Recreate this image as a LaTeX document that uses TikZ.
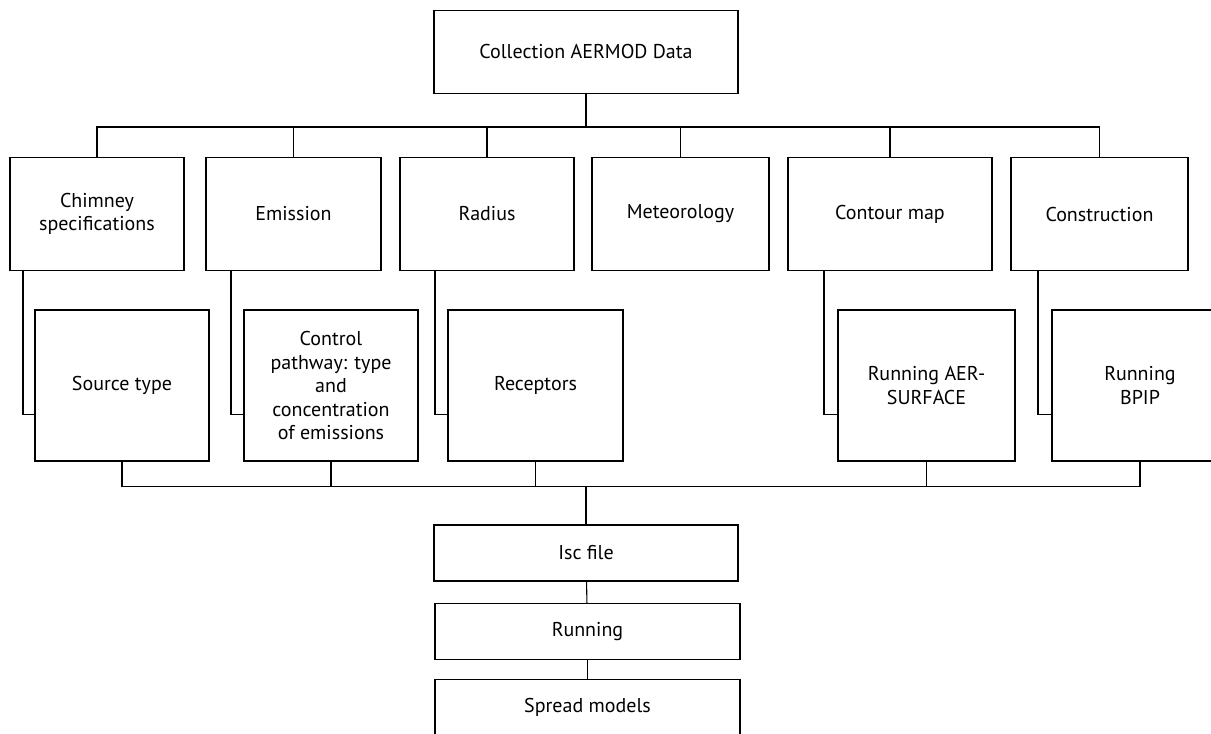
\documentclass[tikz,border=0pt]{standalone}
\usepackage{fontspec}
\setmainfont{PT Sans}
\begin{document}
\begin{tikzpicture}[x=1pt, y=-1pt, line width=1.1pt,
    box/.style={draw, align=center, inner sep=0pt, outer sep=0pt,
        font=\fontsize{20}{23.5}\selectfont},
    topbox/.style={box, minimum width=304pt, minimum height=83pt},
    catbox/.style={box, minimum height=113pt},
    subbox/.style={box, minimum height=151pt},
    runbox/.style={box, minimum width=304pt, minimum height=56pt}]
    \useasboundingbox (0,0) rectangle (1211,734);
    % Livello 1: dati raccolti
    \node[topbox] (top) at (586, 51.7) {Collection AERMOD Data};
    % Livello 2: categorie
    \node[catbox, minimum width=174pt] (chim) at (97, 214) {Chimney\\specifications};
    \node[catbox, minimum width=175pt] (emis) at (293.5, 214) {Emission};
    \node[catbox, minimum width=174pt] (rad)  at (487, 214) {Radius};
    \node[catbox, minimum width=177pt] (met)  at (680.5, 214) {Meteorology};
    \node[catbox, minimum width=204pt] (cont) at (890, 214) {Contour map};
    \node[catbox, minimum width=177pt] (cons) at (1099.5, 214) {Construction};
    % Livello 3: dettagli
    \node[subbox, minimum width=174pt] (src)  at (122, 385.5) {Source type};
    \node[subbox, minimum width=174pt] (ctrl) at (331, 385.5) {Control\\pathway: type\\and\\concentration\\of emissions};
    \node[subbox, minimum width=175pt] (rec)  at (535.5, 385.5) {Receptors};
    \node[subbox, minimum width=177pt] (aer)  at (926.5, 385.5) {Running AER-\\SURFACE};
    \node[subbox, minimum width=176pt] (bpip) at (1140, 385.5) {Running\\BPIP};
    % Livello 4: esecuzione
    \node[runbox] (isc) at (586, 553) {Isc file};
    \node[runbox, minimum width=305pt] (run) at (587.5, 631.7) {Running};
    \node[runbox, minimum width=305pt] (spread) at (587.5, 707.3) {Spread models};
    % collegamenti
    \coordinate (hub) at (top.south |- 0,127);
    \draw (top.south) -- (hub);
    \foreach \n in {chim,emis,rad,met,cont,cons}
        \draw (hub) -| (\n.north);
    \draw ([xshift=13pt]chim.south west) |- ([yshift=-29pt]src.west);
    \draw ([xshift=25pt]emis.south west) |- ([yshift=-29pt]ctrl.west);
    \draw ([xshift=35pt]rad.south west) |- ([yshift=-29pt]rec.west);
    \draw ([xshift=36pt]cont.south west) |- ([yshift=-29pt]aer.west);
    \draw ([xshift=27pt]cons.south west) |- ([yshift=-29pt]bpip.west);
    \coordinate (hub2) at (isc.north |- 0,486.7);
    \foreach \n in {src,ctrl,rec,aer,bpip}
        \draw (\n.south) |- (hub2);
    \draw (hub2) -- (isc.north);
    \draw (isc) -- (run);
    \draw (run) -- (spread);
\end{tikzpicture}
\end{document}
